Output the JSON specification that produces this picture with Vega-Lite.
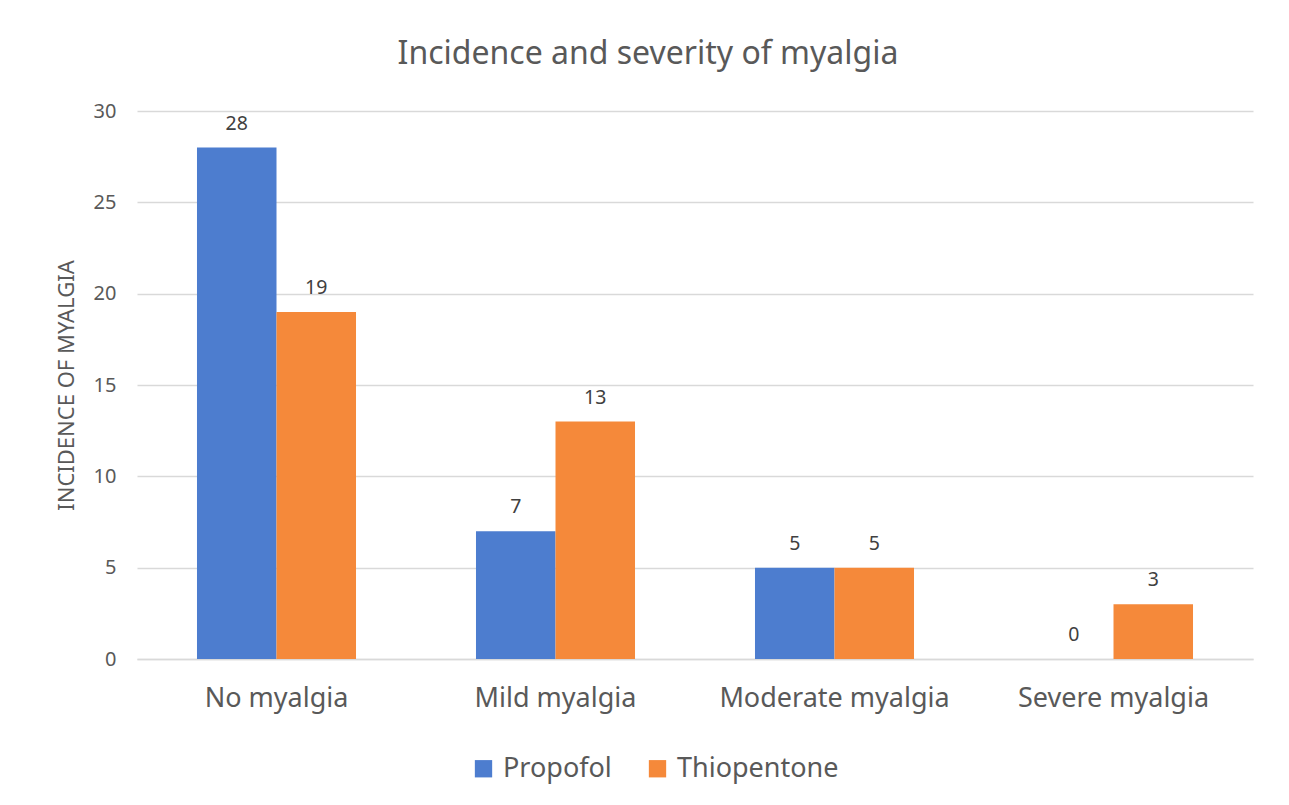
{
  "$schema": "https://vega.github.io/schema/vega-lite/v6.json",
  "width": 1116,
  "height": 548,
  "autosize": {"type": "none"},
  "padding": {"left": 137, "top": 111, "right": 36, "bottom": 146},
  "background": "white",
  "config": {
    "font": "Noto Sans",
    "view": {"stroke": null},
    "axis": {"labelColor": "#595959", "titleColor": "#595959", "gridColor": "#D9D9D9", "gridWidth": 1.5, "domainColor": "#D9D9D9", "domainWidth": 1.5, "ticks": false}
  },
  "title": {
    "text": "Incidence and severity of myalgia",
    "fontSize": 32,
    "fontWeight": "normal",
    "color": "#595959",
    "offset": 30,
    "dx": -47
  },
  "data": {
    "values": [
      {"category": "No myalgia", "group": "Propofol", "value": 28},
      {"category": "No myalgia", "group": "Thiopentone", "value": 19},
      {"category": "Mild myalgia", "group": "Propofol", "value": 7},
      {"category": "Mild myalgia", "group": "Thiopentone", "value": 13},
      {"category": "Moderate myalgia", "group": "Propofol", "value": 5},
      {"category": "Moderate myalgia", "group": "Thiopentone", "value": 5},
      {"category": "Severe myalgia", "group": "Propofol", "value": 0},
      {"category": "Severe myalgia", "group": "Thiopentone", "value": 3}
    ]
  },
  "encoding": {
    "x": {
      "field": "category",
      "type": "nominal",
      "sort": ["No myalgia", "Mild myalgia", "Moderate myalgia", "Severe myalgia"],
      "scale": {"paddingInner": 0.43, "paddingOuter": 0.215},
      "axis": {"title": null, "labelAngle": 0, "labelFontSize": 27, "labelLimit": 0, "labelPadding": 26, "grid": false, "domain": true}
    },
    "xOffset": {"field": "group", "type": "nominal", "sort": ["Propofol", "Thiopentone"]},
    "y": {
      "field": "value",
      "type": "quantitative",
      "scale": {"domain": [0, 30]},
      "axis": {
        "title": "INCIDENCE OF MYALGIA",
        "titleFontSize": 22,
        "titleFontWeight": "normal",
        "titleAngle": -90,
        "titleX": -71,
        "titleY": 274,
        "titleAlign": "center",
        "titleBaseline": "middle",
        "values": [0, 5, 10, 15, 20, 25, 30],
        "labelFontSize": 20,
        "labelPadding": 21,
        "domain": false,
        "grid": true
      }
    }
  },
  "layer": [
    {
      "mark": {"type": "bar"},
      "encoding": {
        "color": {
          "field": "group",
          "type": "nominal",
          "sort": ["Propofol", "Thiopentone"],
          "scale": {"range": ["#4D7DCF", "#F5893A"]},
          "legend": {
            "title": null,
            "orient": "none",
            "direction": "horizontal",
            "legendX": 333,
            "legendY": 644,
            "symbolType": "square",
            "symbolSize": 300,
            "symbolStrokeWidth": 0,
            "labelFontSize": 27,
            "labelLimit": 0,
            "labelColor": "#595959",
            "columnPadding": 32,
            "labelOffset": 6
          }
        }
      }
    },
    {
      "mark": {"type": "text", "baseline": "bottom", "dy": -14, "fontSize": 19.5, "color": "#404040"},
      "encoding": {"text": {"field": "value", "type": "quantitative"}}
    }
  ]
}
